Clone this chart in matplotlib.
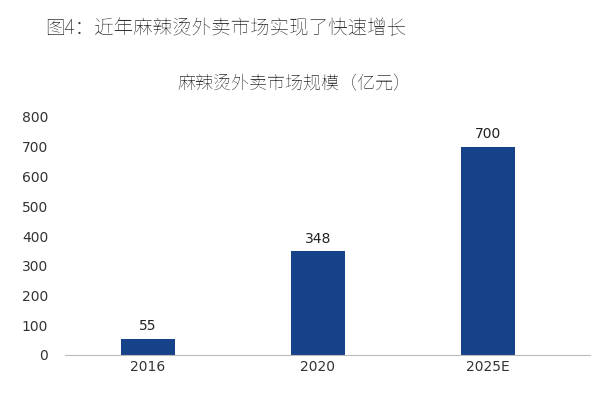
import matplotlib.pyplot as plt
from matplotlib import font_manager

# Find a CJK font file
cjk_path = None
for f in font_manager.findSystemFonts():
    if "NotoSansCJK" in f.replace(" ", "") or "NotoSansSC" in f:
        cjk_path = f
        break
if cjk_path:
    font_manager.fontManager.addfont(cjk_path)
    cjk_name = font_manager.FontProperties(fname=cjk_path).get_name()
else:
    cjk_name = "Noto Sans CJK SC"
plt.rcParams["font.family"] = ["DejaVu Sans", cjk_name]

# Data
categories = ["2016", "2020", "2025E"]
market_size = [55, 348, 700]
y_ticks = [0, 100, 200, 300, 400, 500, 600, 700, 800]

fig = plt.figure(figsize=(6, 4), dpi=100)
ax = fig.add_axes([0.108, 0.1125, 0.875, 0.595])

x = range(len(categories))
ax.bar(x, market_size, width=0.32, color="#16428a")
for xi, v in zip(x, market_size):
    ax.text(xi, v + 18, str(v), ha="center", va="bottom", fontsize=10, color="#222222")

ax.set_xlim(-0.49, 2.6)
ax.set_ylim(0, 800)
ax.set_yticks(y_ticks)
ax.set_xticks(list(x))
ax.set_xticklabels(categories)
ax.tick_params(axis="both", length=0, labelsize=10, colors="#333333")
ax.tick_params(axis="y", pad=12)
for s in ["top", "right", "left"]:
    ax.spines[s].set_visible(False)
ax.spines["bottom"].set_color("#bbbbbb")

fig.text(0.075, 0.93, "图4：近年麻辣烫外卖市场实现了快速增长", fontsize=14,
         fontweight="bold", color="#333333", va="center", family=cjk_name)
fig.text(0.49, 0.79, "麻辣烫外卖市场规模（亿元）", fontsize=13,
         color="#333333", ha="center", va="center", family=cjk_name)

fig.savefig("out.png")
